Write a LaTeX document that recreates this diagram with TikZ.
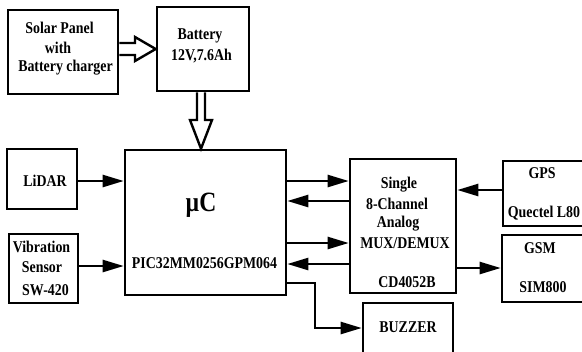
\documentclass[tikz,border=0pt]{standalone}
\usepackage{fontspec}
\setmainfont[FakeStretch=0.845]{Liberation Serif}
\usetikzlibrary{arrows.meta,calc}
\begin{document}
\begin{tikzpicture}[x=1bp,y=-1bp,
  box/.style={draw,line width=2.6bp,inner sep=0pt},
  txt/.style={font=\fontsize{16.5}{18}\selectfont\bfseries,inner sep=0pt,anchor=center},
  conn/.style={line width=2.4bp,-{Triangle[length=21bp,width=12bp]}},
  hollow/.style={line width=2.4bp,fill=white,line join=miter}]
\useasboundingbox (0,0) rectangle (582,351);
\clip (0,0) rectangle (582,351);
% boxes
\node[box,minimum width=110bp,minimum height=84bp] (solar) at (63,52) {};
\node[box,minimum width=92bp,minimum height=84bp] (battery) at (203,49) {};
\node[box,minimum width=161bp,minimum height=145bp] (uc) at (205.5,222.5) {};
\node[box,minimum width=70bp,minimum height=60bp] (lidar) at (42,179) {};
\node[box,minimum width=69bp,minimum height=69bp] (vib) at (43.5,268.5) {};
\node[box,minimum width=106bp,minimum height=134bp] (mux) at (403,226) {};
\node[box,minimum width=89bp,minimum height=65bp] (gps) at (547.5,193.5) {};
\node[box,minimum width=90bp,minimum height=67bp] (gsm) at (547,268.5) {};
\node[box,minimum width=90bp,minimum height=59bp] (buzzer) at (408,332.5) {};
% texts
\node[txt] (t1) at (59.5,28) {Solar Panel};
\node[txt] (t2) at (58,48) {with};
\node[txt] (t3) at (65.5,68) {Battery charger};
\node[txt] (t4) at (200,36) {Battery};
\node[txt] (t5) at (201.5,56) {12V,7.6Ah};
\node[txt] (t6) at (45,181) {LiDAR};
\node[txt] (t7) at (41.5,247) {Vibration};
\node[txt] (t8) at (42,267) {Sensor};
\node[txt] (t9) at (45.5,290) {SW-420};
\node[txt,font=\fontsize{28}{30}\selectfont\bfseries] (t10) at (201,205) {µC};
\node[txt] (t11) at (204.5,263) {PIC32MM0256GPM064};
\node[txt] (t12) at (399,185) {Single};
\node[txt] (t13) at (397,204) {8-Channel};
\node[txt] (t14) at (398,224) {Analog};
\node[txt] (t15) at (405,243) {MUX/DEMUX};
\node[txt] (t16) at (407,282) {CD4052B};
\node[txt] (t17) at (542,173) {GPS};
\node[txt] (t18) at (544,213) {Quectel L80};
\node[txt] (t19) at (540,248) {GSM};
\node[txt] (t20) at (543,287) {SIM800};
\node[txt] (t21) at (408,327) {BUZZER};
% hollow arrows
\draw[hollow] (solar.east |- 0,43) -- (135,43) -- (135,37) -- (battery.west |- 0,49)
  -- (135,61) -- (135,55) -- (solar.east |- 0,55);
\draw[hollow] (197,0 |- battery.south) -- (197,120) -- (190,120) -- (201,0 |- uc.north)
  -- (212,120) -- (205,120) -- (205,0 |- battery.south);
% connectors
\draw[conn] (lidar.east |- 0,181) -- (uc.west |- 0,181);
\draw[conn] (vib.east |- 0,266) -- (uc.west |- 0,266);
\draw[conn] (uc.east |- 0,181) -- (mux.west |- 0,181);
\draw[conn] (mux.west |- 0,201) -- (uc.east |- 0,201);
\draw[conn] (uc.east |- 0,243) -- (mux.west |- 0,243);
\draw[conn] (mux.west |- 0,264) -- (uc.east |- 0,264);
\draw[conn] (gps.west |- 0,190) -- (mux.east |- 0,190);
\draw[conn] (mux.east |- 0,268) -- (gsm.west |- 0,268);
\draw[conn] (uc.east |- 0,283) -- (315,283) -- (315,328) -- (buzzer.west |- 0,328);
\end{tikzpicture}
\end{document}
